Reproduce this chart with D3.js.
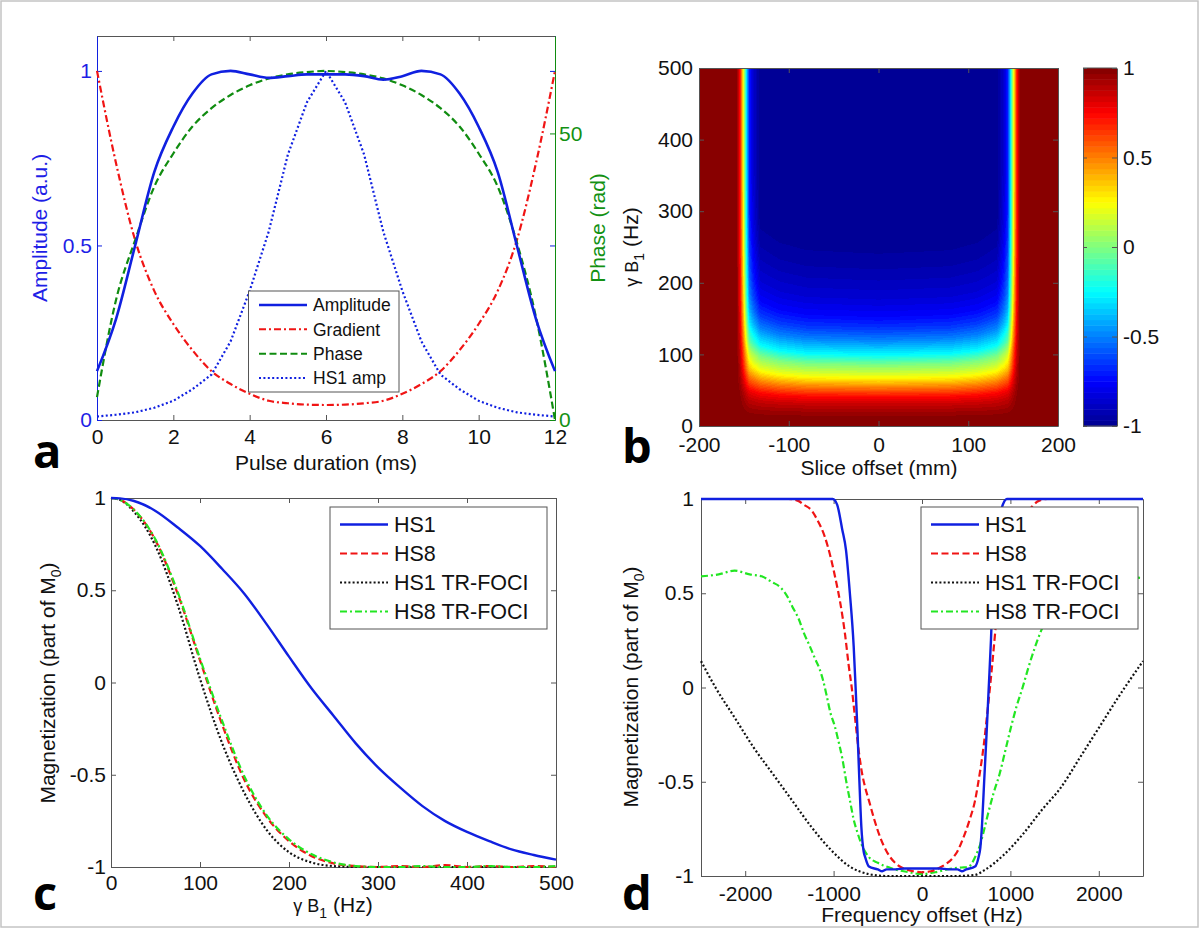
<!DOCTYPE html>
<html>
<head>
<meta charset="utf-8">
<script src="https://cdn.jsdelivr.net/npm/d3@7/dist/d3.min.js"></script>
<style>
  body { margin: 0; background: #fff; }
  svg { display: block; }
</style>
</head>
<body>
<div id="figure"></div>
<script>
// ---------- values ----------

// (a) pulse shapes over the 12 ms pulse
var pulseTime = [0, 0.5, 1, 1.5, 2, 2.5, 3, 3.5, 4, 4.5, 5, 5.5, 6, 6.5, 7, 7.5, 8, 8.5, 9, 9.5, 10, 10.5, 11, 11.5, 12];
var amplitude = [0.14, 0.29, 0.5, 0.71, 0.84, 0.935, 0.99, 1.0, 0.99, 0.98, 0.985, 0.99, 0.99, 0.99, 0.985, 0.975, 0.985, 1.0, 0.99, 0.935, 0.84, 0.71, 0.5, 0.29, 0.14];
var gradient = [1.0, 0.735, 0.515, 0.37, 0.275, 0.2, 0.14, 0.103, 0.075, 0.055, 0.048, 0.044, 0.043, 0.044, 0.048, 0.055, 0.075, 0.103, 0.14, 0.2, 0.275, 0.37, 0.515, 0.735, 1.0];
var phaseRad = [4, 21, 31.4, 40.7, 46.5, 51.2, 54.4, 56.7, 58.4, 59.6, 60.3, 60.7, 60.9, 60.7, 60.3, 59.6, 58.4, 56.7, 54.4, 51.2, 46.5, 40.7, 31, 18, 0];
var hs1Amp = [0.01, 0.015, 0.022, 0.035, 0.055, 0.088, 0.13, 0.225, 0.37, 0.54, 0.76, 0.91, 1.0, 0.91, 0.76, 0.54, 0.37, 0.225, 0.13, 0.088, 0.055, 0.035, 0.022, 0.015, 0.01];
var pulseTicks = [0, 2, 4, 6, 8, 10, 12];
var ampTicks = [0, 0.5, 1];
var phaseTicks = [0, 50];

// (b) inversion map: centre-column profile, edge and bending of the bands
var sliceTicks = [-200, -100, 0, 100, 200];
var b1MapTicks = [0, 100, 200, 300, 400, 500];
var heatB1 = [0, 10, 18, 30, 40, 54, 67, 76, 85, 99, 120, 135, 152, 175, 200, 225, 250, 300, 500];
var heatMz = [1, 0.99, 0.95, 0.86, 0.75, 0.5, 0.25, 0.12, 0, -0.25, -0.5, -0.64, -0.75, -0.84, -0.9, -0.95, -0.98, -1, -1];
var edgeDist = [0, 132, 140, 144, 147, 149, 151, 154, 158, 200];
var edgeWeight = [0, 0, 0.08, 0.15, 0.35, 0.5, 0.65, 0.85, 1, 1];
var bendDist = [0, 80, 110, 130, 140, 150];
var bendScale = [1, 0.98, 0.94, 0.88, 0.84, 0.82];
var cbarTicks = [-1, -0.5, 0, 0.5, 1];
var jetValues = [-1, -0.75, -0.25, 0.25, 0.75, 1];
var jetColors = ["#00008f", "#0000ff", "#00ffff", "#ffff00", "#ff0000", "#800000"];

// (c) magnetization vs B1
var b1Hz = [0, 10, 25, 50, 75, 100, 125, 150, 175, 200, 225, 250, 275, 300, 325, 350, 375, 400, 425, 450, 475, 500];
var cHS1 = [1, 0.998, 0.985, 0.93, 0.84, 0.74, 0.615, 0.48, 0.315, 0.14, -0.03, -0.18, -0.33, -0.46, -0.57, -0.67, -0.75, -0.81, -0.86, -0.905, -0.935, -0.96];
var cHS8 = [1, 0.99, 0.94, 0.77, 0.48, 0.12, -0.23, -0.53, -0.73, -0.86, -0.94, -0.98, -0.995, -1, -0.995, -1, -0.99, -1, -0.995, -1, -0.995, -1];
var cHS1Foci = [1, 0.99, 0.93, 0.74, 0.42, 0.02, -0.33, -0.6, -0.8, -0.92, -0.975, -0.995, -1, -1, -1, -1, -1, -1, -1, -1, -1, -1];
var cHS8Foci = [1, 0.99, 0.94, 0.775, 0.49, 0.13, -0.21, -0.51, -0.72, -0.85, -0.93, -0.975, -0.995, -1, -1, -0.995, -1, -1, -0.995, -1, -1, -0.995];
var b1Ticks = [0, 100, 200, 300, 400, 500];
var mzTicks = [-1, -0.5, 0, 0.5, 1];

// (d) magnetization vs frequency offset, [Hz, Mz]
var dHS1 = [[-2500, 1], [-1010, 1], [-960, 0.97], [-903, 0.84], [-860, 0.73], [-816, 0.5], [-773, 0.22], [-751, 0], [-730, -0.23], [-708, -0.5], [-686, -0.74], [-660, -0.87], [-643, -0.9], [-600, -0.95], [-500, -0.965], [-450, -0.975], [-400, -0.965], [-300, -0.965], [-200, -0.96], [-100, -0.96], [0, -0.96], [100, -0.96], [200, -0.96], [300, -0.965], [400, -0.965], [450, -0.975], [500, -0.965], [600, -0.95], [640, -0.9], [660, -0.85], [680, -0.72], [703, -0.5], [730, -0.25], [755, 0], [780, 0.25], [800, 0.5], [830, 0.72], [860, 0.87], [900, 0.95], [960, 1], [2500, 1]];
var dHS8 = [[-2500, 1], [-1511, 1], [-1400, 0.99], [-1337, 0.97], [-1250, 0.94], [-1185, 0.89], [-1100, 0.8], [-1033, 0.69], [-980, 0.58], [-925, 0.45], [-870, 0.28], [-830, 0.12], [-795, 0], [-760, -0.15], [-720, -0.32], [-680, -0.45], [-643, -0.53], [-600, -0.6], [-540, -0.7], [-469, -0.8], [-400, -0.87], [-360, -0.9], [-280, -0.94], [-208, -0.96], [-100, -0.975], [0, -0.98], [100, -0.975], [182, -0.96], [260, -0.94], [356, -0.9], [400, -0.87], [465, -0.8], [540, -0.7], [600, -0.6], [638, -0.5], [700, -0.3], [740, -0.13], [769, 0], [800, 0.15], [840, 0.35], [877, 0.5], [950, 0.7], [1029, 0.8], [1120, 0.9], [1224, 0.95], [1320, 0.99], [1420, 1], [2500, 1]];
var dHS1Foci = [[-2500, 0.14], [-2336, 0.0], [-2119, -0.16], [-1902, -0.32], [-1685, -0.46], [-1468, -0.6], [-1251, -0.74], [-1033, -0.86], [-816, -0.95], [-600, -0.99], [-400, -1], [0, -1], [400, -1], [595, -0.995], [703, -0.97], [920, -0.89], [1138, -0.78], [1355, -0.65], [1572, -0.53], [1789, -0.37], [2006, -0.21], [2223, -0.05], [2500, 0.14]];
var dHS8Foci = [[-2500, 0.59], [-2300, 0.6], [-2120, 0.62], [-1950, 0.6], [-1815, 0.59], [-1700, 0.56], [-1598, 0.53], [-1520, 0.48], [-1468, 0.43], [-1400, 0.37], [-1337, 0.29], [-1270, 0.22], [-1207, 0.15], [-1160, 0.1], [-1120, 0.04], [-1080, -0.04], [-1033, -0.14], [-990, -0.2], [-947, -0.28], [-900, -0.38], [-860, -0.49], [-815, -0.6], [-773, -0.7], [-730, -0.77], [-686, -0.83], [-600, -0.9], [-500, -0.93], [-339, -0.96], [-150, -0.98], [0, -0.99], [150, -0.98], [339, -0.96], [450, -0.955], [530, -0.95], [600, -0.9], [660, -0.83], [700, -0.76], [747, -0.67], [810, -0.56], [877, -0.46], [940, -0.34], [1007, -0.21], [1070, -0.1], [1138, 0.0], [1200, 0.1], [1268, 0.2], [1355, 0.31], [1450, 0.4], [1550, 0.47], [1700, 0.54], [1900, 0.58], [2100, 0.6], [2300, 0.59], [2500, 0.58]];
var freqTicks = [-2000, -1000, 0, 1000, 2000];

// ---------- look ----------
var FONT = "'Liberation Sans', Arial, Helvetica, sans-serif";
var BLUE = "#1020e0", RED = "#f01414", DGREEN = "#108c10", LGREEN = "#22e622", BLACK = "#111";
var AXIS = "#555";
var TICK_FS = 21, TITLE_FS = 21;

var svg = d3.select("#figure").append("svg")
  .attr("width", 1200).attr("height", 935)
  .style("font-family", FONT);

// light frame round the whole figure
svg.append("rect").attr("x", 1).attr("y", 1).attr("width", 1197).attr("height", 926)
  .attr("fill", "none").attr("stroke", "#c4c4c4").attr("stroke-width", 1.5);

var fmt = function (d) { return String(d); };

// draw one axis side, inward ticks like matlab
function side(axisFn, scale, ticks, pos, color, padding, labels) {
  var ax = axisFn(scale).tickValues(ticks).tickSizeInner(-5).tickSizeOuter(0)
    .tickPadding(padding).tickFormat(labels ? fmt : "");
  var g = svg.append("g").attr("transform", pos).call(ax);
  g.attr("font-family", FONT).attr("font-size", TICK_FS);
  g.select(".domain").attr("stroke", color).attr("stroke-width", 1);
  g.selectAll(".tick line").attr("stroke", color);
  g.selectAll(".tick text").attr("fill", labels === true ? "#111" : labels);
  return g;
}

function curve(pts, x, y, color, dash, width, shape) {
  svg.append("path").datum(pts)
    .attr("fill", "none").attr("stroke", color).attr("stroke-width", width)
    .attr("stroke-dasharray", dash).attr("stroke-linejoin", "round")
    .attr("d", d3.line().x(function (d) { return x(d[0]); }).y(function (d) { return y(d[1]); })
      .curve(shape || d3.curveMonotoneX));
}

function legend(box, items, fs, lineX0, lineX1, textX, step) {
  var g = svg.append("g");
  g.append("rect").attr("x", box.x).attr("y", box.y).attr("width", box.w).attr("height", box.h)
    .attr("fill", "#fff").attr("stroke", AXIS).attr("stroke-width", 1);
  var pad = (box.h - (items.length - 1) * step) / 2;
  items.forEach(function (it, i) {
    var yy = box.y + pad + i * step;
    g.append("line").attr("x1", lineX0).attr("x2", lineX1).attr("y1", yy).attr("y2", yy)
      .attr("stroke", it.color).attr("stroke-width", it.width).attr("stroke-dasharray", it.dash);
    g.append("text").attr("x", textX).attr("y", yy).attr("dy", "0.36em")
      .attr("font-size", fs).attr("fill", "#111").text(it.label);
  });
}

function vtitle(x, y, color, build) {
  var t = svg.append("text").attr("transform", "translate(" + x + "," + y + ") rotate(-90)")
    .attr("text-anchor", "middle").attr("font-size", TITLE_FS).attr("fill", color);
  build(t);
}

function panelLetter(ch, x, y) {
  svg.append("text").attr("x", x).attr("y", y).text(ch)
    .attr("font-family", "'Open Sans', 'DejaVu Sans', sans-serif").attr("font-weight", 700)
    .attr("font-size", 47).attr("fill", "#000");
}

function gammaB1(t) {
  t.append("tspan").attr("font-size", 18).text("\u03b3 B");
  t.append("tspan").attr("font-size", 14).attr("dy", 6).text("1");
  t.append("tspan").attr("dy", -6).text(" (Hz)");
}

// ================= panel a =================
var xA = d3.scaleLinear().domain([0, 12]).range([97, 555]);
var yA = d3.scaleLinear().domain([0, 1.1]).range([420, 36]);
var yPh = d3.scaleLinear().domain([0, 67]).range([420, 36]);

side(d3.axisTop, xA, pulseTicks, "translate(0,36)", AXIS, 0, false);
side(d3.axisBottom, xA, pulseTicks, "translate(0,420)", AXIS, 9.5, true);
side(d3.axisRight, yA, [0.5, 1], "translate(555,0)", BLUE, 0, false);
side(d3.axisLeft, yA, ampTicks, "translate(97,0)", BLUE, 5, "#1e1ee6");
side(d3.axisRight, yPh, phaseTicks, "translate(555,0)", DGREEN, 4, "#139113");

curve(d3.zip(pulseTime, gradient), xA, yA, RED, "7,3,2,3", 2.2);
curve(d3.zip(pulseTime, hs1Amp), xA, yA, BLUE, "2,2.4", 2.2, d3.curveLinear);
curve(d3.zip(pulseTime, phaseRad), xA, yPh, DGREEN, "7,3.5", 2.2);
curve(d3.zip(pulseTime, amplitude), xA, yA, BLUE, null, 2.6);

legend({ x: 248.5, y: 291, w: 150.5, h: 101 }, [
  { label: "Amplitude", color: BLUE, dash: null, width: 2.4 },
  { label: "Gradient", color: RED, dash: "7,3,2,3", width: 2 },
  { label: "Phase", color: DGREEN, dash: "7,3.5", width: 2 },
  { label: "HS1 amp", color: BLUE, dash: "2,2.4", width: 2 }
], 17.5, 259, 307, 313, 24.3);

svg.append("text").attr("x", 326).attr("y", 470).attr("text-anchor", "middle")
  .attr("font-size", TITLE_FS).attr("fill", "#111").text("Pulse duration (ms)");
vtitle(47, 228, "#1e1ee6", function (t) { t.text("Amplitude (a.u.)"); });
vtitle(605, 228, "#139113", function (t) { t.text("Phase (rad)"); });
panelLetter("a", 33, 468);

// ================= panel b =================
var xB = d3.scaleLinear().domain([-200, 200]).range([699, 1058]);
var yB = d3.scaleLinear().domain([0, 500]).range([426, 68]);

var jet = d3.scaleLinear().domain(jetValues).range(jetColors);
var jetLevels = d3.range(64).map(function (k) { return d3.rgb(jet(-1 + (k + 0.5) / 32)); });
var toLevel = d3.scaleQuantize().domain([-1, 1]).range(d3.range(64));

(function () {
  var x0 = xB.range()[0], y0 = yB.range()[1];
  var cw = Math.round(xB.range()[1] - x0), ch = Math.round(yB.range()[0] - y0);
  var centre = d3.scaleLinear().domain(heatB1).range(heatMz).clamp(true);
  var edge = d3.scaleLinear().domain(edgeDist).range(edgeWeight).clamp(true);
  var bend = d3.scaleLinear().domain(bendDist).range(bendScale).clamp(true);
  var canvas = document.createElement("canvas");
  canvas.width = cw; canvas.height = ch;
  var ctx = canvas.getContext("2d");
  var img = ctx.createImageData(cw, ch);
  for (var j = 0; j < ch; j++) {
    var hz = yB.invert(y0 + j + 0.5);
    for (var i = 0; i < cw; i++) {
      var mm = Math.abs(xB.invert(x0 + i + 0.5));
      var inner = centre(hz * bend(mm));
      var w = edge(mm);
      var c = jetLevels[toLevel(inner * (1 - w) + w)];
      var p = (j * cw + i) * 4;
      img.data[p] = c.r; img.data[p + 1] = c.g; img.data[p + 2] = c.b; img.data[p + 3] = 255;
    }
  }
  ctx.putImageData(img, 0, 0);
  svg.append("image").attr("x", x0).attr("y", y0).attr("width", cw).attr("height", ch)
    .attr("preserveAspectRatio", "none").attr("href", canvas.toDataURL());
})();

side(d3.axisTop, xB, sliceTicks, "translate(0,68)", AXIS, 0, false);
side(d3.axisBottom, xB, sliceTicks, "translate(0,426)", AXIS, 11.5, true);
side(d3.axisLeft, yB, b1MapTicks, "translate(699,0)", AXIS, 6, true);
side(d3.axisRight, yB, b1MapTicks, "translate(1058,0)", AXIS, 0, false);

// colour bar
var cb = d3.scaleLinear().domain([-1, 1]).range([426, 68]);
svg.append("g").selectAll("rect").data(d3.range(64)).enter().append("rect")
  .attr("x", 1083).attr("width", 34)
  .attr("y", function (k) { return cb(-1 + (k + 1) / 32); })
  .attr("height", function (k) { return cb(-1 + k / 32) - cb(-1 + (k + 1) / 32) + 0.5; })
  .attr("fill", function (k) { return jetLevels[k]; });
side(d3.axisLeft, cb, cbarTicks, "translate(1083,0)", AXIS, 0, false).selectAll(".tick line").attr("x2", 4);
side(d3.axisRight, cb, cbarTicks, "translate(1117,0)", AXIS, 6, true);
svg.append("line").attr("x1", 1083).attr("x2", 1117).attr("y1", 68).attr("y2", 68).attr("stroke", AXIS);
svg.append("line").attr("x1", 1083).attr("x2", 1117).attr("y1", 426).attr("y2", 426).attr("stroke", AXIS);

svg.append("text").attr("x", 879).attr("y", 475).attr("text-anchor", "middle")
  .attr("font-size", TITLE_FS).attr("fill", "#111").text("Slice offset (mm)");
vtitle(638, 247, "#111", gammaB1);
panelLetter("b", 622, 463);

// ================= panel c =================
var xC = d3.scaleLinear().domain([0, 500]).range([111, 556]);
var yC = d3.scaleLinear().domain([-1, 1]).range([867, 498]);

side(d3.axisTop, xC, b1Ticks, "translate(0,498)", AXIS, 0, false);
side(d3.axisBottom, xC, b1Ticks, "translate(0,867)", AXIS, 8.5, true);
side(d3.axisLeft, yC, mzTicks, "translate(111,0)", AXIS, 5, true);
side(d3.axisRight, yC, mzTicks, "translate(556,0)", AXIS, 0, false);

curve(d3.zip(b1Hz, cHS1Foci), xC, yC, BLACK, "2,2.2", 2.2);
curve(d3.zip(b1Hz, cHS8), xC, yC, RED, "7,3.5", 2.2);
curve(d3.zip(b1Hz, cHS8Foci), xC, yC, LGREEN, "7,3,2,3", 2.2);
curve(d3.zip(b1Hz, cHS1), xC, yC, BLUE, null, 2.4);

var magItems = [
  { label: "HS1", color: BLUE, dash: null, width: 2.4 },
  { label: "HS8", color: RED, dash: "7,3.5", width: 2 },
  { label: "HS1 TR-FOCI", color: BLACK, dash: "2,2.2", width: 2 },
  { label: "HS8 TR-FOCI", color: LGREEN, dash: "7,3,2,3", width: 2 }
];
legend({ x: 330, y: 507, w: 217, h: 122 }, magItems, 21.5, 340, 388, 394, 29);

svg.append("text").attr("x", 333).attr("y", 912).attr("text-anchor", "middle")
  .attr("font-size", TITLE_FS).attr("fill", "#111").call(gammaB1);
vtitle(55, 683, "#111", function (t) {
  t.append("tspan").text("Magnetization (part of M");
  t.append("tspan").attr("font-size", 14).attr("dy", 6).text("0");
  t.append("tspan").attr("dy", -6).text(")");
});
panelLetter("c", 33, 910);

// ================= panel d =================
var xD = d3.scaleLinear().domain([-2500, 2500]).range([701, 1143]);
var yD = d3.scaleLinear().domain([-1, 1]).range([876, 499]);

side(d3.axisTop, xD, freqTicks, "translate(0,499)", AXIS, 0, false);
side(d3.axisBottom, xD, freqTicks, "translate(0,876)", AXIS, 10, true);
side(d3.axisLeft, yD, mzTicks, "translate(701,0)", AXIS, 7, true);
side(d3.axisRight, yD, mzTicks, "translate(1143,0)", AXIS, 0, false);

curve(dHS1Foci, xD, yD, BLACK, "2,2.2", 2.2);
curve(dHS8Foci, xD, yD, LGREEN, "7,3,2,3", 2.2);
curve(dHS8, xD, yD, RED, "7,3.5", 2.2);
curve(dHS1, xD, yD, BLUE, null, 2.4);

legend({ x: 921, y: 507, w: 217, h: 122 }, magItems, 21.5, 931, 979, 985, 29);

svg.append("text").attr("x", 922).attr("y", 922).attr("text-anchor", "middle")
  .attr("font-size", TITLE_FS).attr("fill", "#111").text("Frequency offset (Hz)");
vtitle(638, 687, "#111", function (t) {
  t.append("tspan").text("Magnetization (part of M");
  t.append("tspan").attr("font-size", 14).attr("dy", 6).text("0");
  t.append("tspan").attr("dy", -6).text(")");
});
panelLetter("d", 622, 910);
</script>
</body>
</html>
